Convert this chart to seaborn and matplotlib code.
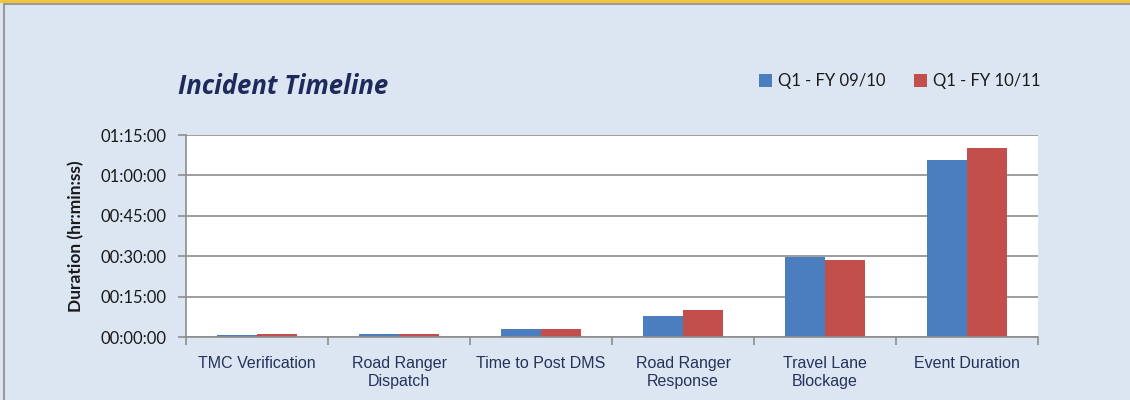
import pandas as pd
import seaborn as sns
import matplotlib.pyplot as plt
from matplotlib.patches import Rectangle, Patch
from matplotlib.lines import Line2D
from matplotlib.ticker import FuncFormatter, MultipleLocator, FixedLocator

# values in minutes
categories = ['TMC Verification', 'Road Ranger\nDispatch', 'Time to Post DMS',
              'Road Ranger\nResponse', 'Travel Lane\nBlockage', 'Event Duration']
fy_0910 = [0.6, 1.0, 3.0, 7.8, 29.8, 65.8]
fy_1011 = [1.0, 1.0, 3.0, 10.0, 28.7, 70.2]
series_names = ['Q1 - FY 09/10', 'Q1 - FY 10/11']

df = pd.DataFrame({
    'Step': categories * 2,
    'Minutes': fy_0910 + fy_1011,
    'Period': [series_names[0]] * len(categories) + [series_names[1]] * len(categories),
})

BG = '#DCE6F2'
GRID = '#8C8C8C'
NAVY = '#1F2A5C'
colors = ['#4A7EBF', '#C24F4C']

sns.set_style('white')
plt.rcParams['font.family'] = ['Lato', 'DejaVu Sans']

fig = plt.figure(figsize=(11.3, 4.0), dpi=100, facecolor=BG)
ax = fig.add_axes([186 / 1130, 1 - 337 / 400, 852 / 1130, 202 / 400])
ax.set_facecolor('white')

sns.barplot(data=df, x='Step', y='Minutes', hue='Period', palette=colors,
            width=0.57, linewidth=0, saturation=1, ax=ax, legend=False)

ax.set_ylim(0, 75)
ax.set_xlim(-0.5, 5.5)
ax.yaxis.set_major_locator(MultipleLocator(15))
ax.yaxis.set_major_formatter(FuncFormatter(
    lambda v, p: f'{int(v // 60):02d}:{int(v % 60):02d}:00'))
ax.grid(axis='y', color=GRID, linewidth=1.2)
ax.set_axisbelow(True)

for s in ['top', 'right']:
    ax.spines[s].set_visible(False)
for s in ['left', 'bottom']:
    ax.spines[s].set_color(GRID)
    ax.spines[s].set_linewidth(1.2)

ax.tick_params(axis='y', direction='out', length=6, width=1.2, color=GRID,
               labelsize=12, labelcolor='#1a1a1a', pad=8, left=True)
ax.xaxis.set_minor_locator(FixedLocator([i - 0.5 for i in range(len(categories) + 1)]))
ax.tick_params(axis='x', which='minor', direction='out', length=6, width=1.2,
               color=GRID, bottom=True)
ax.tick_params(axis='x', which='major', length=0, pad=14)
for lab in ax.get_xticklabels():
    lab.set_fontfamily('Liberation Sans')
    lab.set_fontsize(11.5)
    lab.set_color('#25325A')
    lab.set_linespacing(1.2)
    lab.set_verticalalignment('top')

ax.set_xlabel('')
ax.set_ylabel('Duration (hr:min:ss)', fontsize=12.5, fontweight='bold',
              color='#1a1a1a', labelpad=12)

fig.text(178 / 1130, 1 - 86 / 400, 'Incident Timeline', fontsize=18.5,
         fontweight='bold', fontstyle='italic', color=NAVY, va='center', ha='left',
         family=['Open Sans', 'DejaVu Sans'])

handles = [Patch(facecolor=c, edgecolor='none') for c in colors]
leg = fig.legend(handles, series_names, loc='center left',
                 bbox_to_anchor=(744 / 1130, 1 - 81 / 400), ncol=2, frameon=False,
                 fontsize=12, handlelength=0.8, handleheight=0.8,
                 handletextpad=0.35, columnspacing=1.7)
for t in leg.get_texts():
    t.set_color('#1a1a1a')

# panel border and the thin gold strip along the top edge
fig.add_artist(Rectangle((4 / 1130, -0.05), 1.1, 1 - 3.5 / 400 + 0.05,
                         transform=fig.transFigure, fill=False,
                         edgecolor='#999999', linewidth=1.5))
fig.add_artist(Line2D([0, 1], [1 - 1 / 400, 1 - 1 / 400], transform=fig.transFigure,
                      color='#F2C230', linewidth=2))

fig.savefig('out.png', dpi=100, facecolor=BG)
